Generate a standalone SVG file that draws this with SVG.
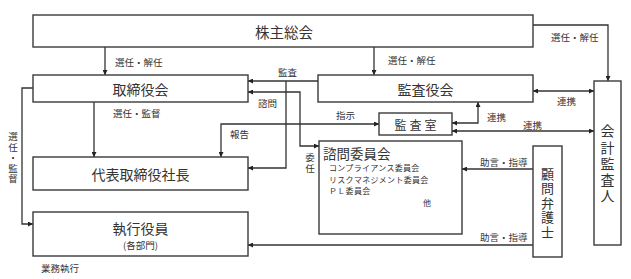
<svg xmlns="http://www.w3.org/2000/svg" width="631" height="279" viewBox="0 0 631 279">
<style>
text{font-family:"Noto Sans CJK JP","Noto Sans",sans-serif;fill:#333;}
.box{fill:#fff;stroke:#3a3a3a;stroke-width:1.4;}
.ln{fill:none;stroke:#333;stroke-width:1.3;}
.t{font-size:14px;text-anchor:middle;dominant-baseline:central;}
.lb{font-size:9.5px;dominant-baseline:central;}
.v{writing-mode:vertical-rl;text-orientation:upright;text-anchor:start;}
.sm{font-size:8px;dominant-baseline:central;letter-spacing:0.3px;}
</style>
<defs>
<marker id="ah" viewBox="0 0 6 6" refX="6" refY="3" markerWidth="5" markerHeight="5" markerUnits="userSpaceOnUse" orient="auto-start-reverse">
<path d="M0,0 L6,3 L0,6 z" fill="#222"/>
</marker>
</defs>
<rect width="631" height="279" fill="#fff"/>
<g id="connectors">
<path class="ln" d="M105,47 V75" marker-end="url(#ah)"/>
<path class="ln" d="M374,47 V75" marker-end="url(#ah)"/>
<path class="ln" d="M533,25 H608 V81" marker-end="url(#ah)"/>
<path class="ln" d="M533,91 H594" marker-start="url(#ah)" marker-end="url(#ah)"/>
<path class="ln" d="M318,81 H248" marker-end="url(#ah)"/>
<path class="ln" d="M286,81 V168 H248" marker-end="url(#ah)"/>
<path class="ln" d="M248,92 H300 V146 H319" marker-start="url(#ah)" marker-end="url(#ah)"/>
<path class="ln" d="M94,102 V157" marker-end="url(#ah)"/>
<path class="ln" d="M221,157 V124 H379" marker-start="url(#ah)" marker-end="url(#ah)"/>
<path class="ln" d="M452,123 H478 V102" marker-start="url(#ah)" marker-end="url(#ah)"/>
<path class="ln" d="M452,131 H594" marker-start="url(#ah)" marker-end="url(#ah)"/>
<path class="ln" d="M33,88 H22 V224 H33" marker-end="url(#ah)"/>
<path class="ln" d="M533,169 H462" marker-end="url(#ah)"/>
<path class="ln" d="M533,245 H248" marker-end="url(#ah)"/>
<text class="lb" x="115" y="62">選任・解任</text>
<text class="lb" x="388" y="60">選任・解任</text>
<text class="lb" x="551" y="37">選任・解任</text>
<text class="lb" x="278" y="72">監査</text>
<text class="lb" x="258" y="103">諮問</text>
<text class="lb" x="113" y="113">選任・監督</text>
<text class="lb" x="230" y="134">報告</text>
<text class="lb" x="336" y="115">指示</text>
<text class="lb" x="487" y="117">連携</text>
<text class="lb" x="523" y="125">連携</text>
<text class="lb" x="557" y="101">連携</text>
<text class="lb" x="480" y="162">助言・指導</text>
<text class="lb" x="480" y="237">助言・指導</text>
<text class="v" x="310" y="153" style="font-size:9.5px;letter-spacing:1.5px">委任</text>
<text class="v" x="13" y="132" style="font-size:9.5px;letter-spacing:1px">選任・監督</text>
<text class="lb" x="41" y="268">業務執行</text>
</g>
<g id="kabunushi">
<rect class="box" x="33" y="15" width="500" height="32"/>
<text class="t" x="284" y="31" style="font-size:14.5px">株主総会</text>
</g>
<g id="torishimariyakukai">
<rect class="box" x="33" y="75" width="215" height="27"/>
<text class="t" x="140.5" y="88.5">取締役会</text>
</g>
<g id="kansayakukai">
<rect class="box" x="318" y="75" width="215" height="27"/>
<text class="t" x="425.5" y="88.5">監査役会</text>
</g>
<g id="kansashitsu">
<rect class="box" x="379" y="113" width="73" height="22"/>
<text class="t" x="417" y="124" style="font-size:12px;letter-spacing:3px">監査室</text>
</g>
<g id="shacho">
<rect class="box" x="33" y="157" width="215" height="33"/>
<text class="t" x="140.5" y="174">代表取締役社長</text>
</g>
<g id="shikkoyakuin">
<rect class="box" x="33" y="212" width="215" height="44"/>
<text class="t" x="140.5" y="228">執行役員</text>
<text class="t" x="140.5" y="245" style="font-size:9.5px">(各部門)</text>
</g>
<g id="shimoniinkai">
<rect class="box" x="319" y="141" width="143" height="93"/>
<text x="323" y="153" style="font-size:13.5px;dominant-baseline:central">諮問委員会</text>
<text class="sm" x="329" y="167">コンプライアンス委員会</text>
<text class="sm" x="329" y="179">リスクマネジメント委員会</text>
<text class="sm" x="329" y="190">ＰＬ委員会</text>
<text class="sm" x="423" y="202">他</text>
</g>
<g id="komonbengoshi">
<rect class="box" x="533" y="146" width="29" height="111"/>
<text class="v" x="547.5" y="167.5" style="font-size:13px;letter-spacing:1.5px">顧問弁護士</text>
</g>
<g id="kaikeikansanin">
<rect class="box" x="594" y="81" width="27" height="164"/>
<text class="v" x="607.5" y="124" style="font-size:14px;letter-spacing:2.2px">会計監査人</text>
</g>
</svg>
